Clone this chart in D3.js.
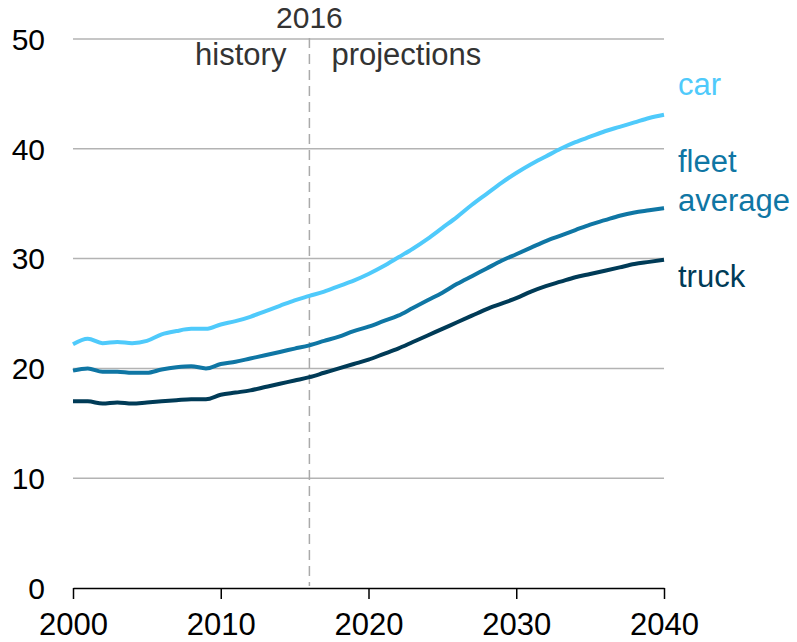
<!DOCTYPE html>
<html>
<head>
<meta charset="utf-8">
<script src="https://cdn.jsdelivr.net/npm/d3@7"></script>
<style>
  body { margin: 0; background: #fff; }
  text { font-family: "Liberation Sans", Arial, sans-serif; }
</style>
</head>
<body>
<div id="chart"></div>
<script>
// chart size
const width = 797
const height = 642

// data: miles per gallon by year
const years = d3.range(2000, 2041)
const car = [22.2, 22.7, 22.3, 22.4, 22.3, 22.5, 23.1, 23.4, 23.6, 23.6,
  24.0, 24.3, 24.7, 25.2, 25.7, 26.2, 26.6, 27.0, 27.5, 28.0,
  28.6, 29.3, 30.1, 30.9, 31.8, 32.8, 33.8, 34.9, 35.9, 36.9,
  37.8, 38.6, 39.3, 40.0, 40.6, 41.1, 41.6, 42.0, 42.4, 42.8, 43.1]
const fleet = [19.8, 20.0, 19.7, 19.7, 19.6, 19.6, 19.9, 20.1, 20.2, 20.0,
  20.4, 20.6, 20.9, 21.2, 21.5, 21.8, 22.1, 22.5, 22.9, 23.4,
  23.8, 24.3, 24.8, 25.5, 26.2, 26.9, 27.7, 28.4, 29.1, 29.8,
  30.4, 31.0, 31.6, 32.1, 32.6, 33.1, 33.5, 33.9, 34.2, 34.4, 34.6]
const truck = [17.0, 17.0, 16.8, 16.9, 16.8, 16.9, 17.0, 17.1, 17.2, 17.2,
  17.6, 17.8, 18.0, 18.3, 18.6, 18.9, 19.2, 19.6, 20.0, 20.4,
  20.8, 21.3, 21.8, 22.4, 23.0, 23.6, 24.2, 24.8, 25.4, 25.9,
  26.4, 27.0, 27.5, 27.9, 28.3, 28.6, 28.9, 29.2, 29.5, 29.7, 29.9]
const yTicks = [0, 10, 20, 30, 40, 50]
const xTicks = [2000, 2010, 2020, 2030, 2040]
const splitYear = 2016

const series = [
  { name: "car", values: car, color: "#4fcafb", label: ["car"] },
  { name: "fleet", values: fleet, color: "#0f76a4", label: ["fleet", "average"] },
  { name: "truck", values: truck, color: "#003b57", label: ["truck"] }
]

var svg = d3.select("#chart")
            .append("svg")
            .attr("width", width)
            .attr("height", height)

var x = d3.scaleLinear().domain([2000, 2040]).range([73, 664])
var y = d3.scaleLinear().domain([0, 50]).range([588, 39])

// gridlines
svg.append("g")
   .selectAll("line")
   .data(yTicks.filter(d => d > 0))
   .enter()
   .append("line")
   .attr("x1", x(2000))
   .attr("x2", x(2040))
   .attr("y1", d => y(d))
   .attr("y2", d => y(d))
   .attr("stroke", "#b3b3b3")
   .attr("stroke-width", 1.5)

// y tick labels
svg.append("g")
   .selectAll("text")
   .data(yTicks)
   .enter()
   .append("text")
   .attr("x", 45)
   .attr("y", d => y(d))
   .attr("dy", "0.36em")
   .attr("text-anchor", "end")
   .attr("font-size", "30px")
   .attr("fill", "#000")
   .text(d => d)

// x axis
var xAxis = d3.axisBottom(x)
              .tickValues(xTicks)
              .tickFormat(d3.format("d"))
              .tickSize(11)
              .tickSizeOuter(0)
              .tickPadding(14)

var gx = svg.append("g")
            .attr("transform", "translate(0," + y(0) + ")")
            .call(xAxis)
gx.select(".domain").attr("stroke", "#000").attr("stroke-width", 1.5)
gx.selectAll(".tick line").attr("stroke", "#000").attr("stroke-width", 1.5)
gx.selectAll(".tick text")
  .attr("font-size", "31px")
  .attr("font-family", "'Liberation Sans', Arial, sans-serif")
  .attr("fill", "#000")

// 2016 divider
svg.append("line")
   .attr("x1", x(splitYear))
   .attr("x2", x(splitYear))
   .attr("y1", 38)
   .attr("y2", y(0) - 2)
   .attr("stroke", "#aaaaaa")
   .attr("stroke-width", 1.5)
   .attr("stroke-dasharray", "10,6")

svg.append("text")
   .attr("x", x(splitYear))
   .attr("y", 28)
   .attr("text-anchor", "middle")
   .attr("font-size", "30px")
   .attr("fill", "#333")
   .text(splitYear)

svg.append("text")
   .attr("x", x(splitYear) - 23)
   .attr("y", 65)
   .attr("text-anchor", "end")
   .attr("font-size", "31px")
   .attr("fill", "#333")
   .text("history")

svg.append("text")
   .attr("x", x(splitYear) + 22)
   .attr("y", 65)
   .attr("text-anchor", "start")
   .attr("font-size", "31px")
   .attr("fill", "#333")
   .text("projections")

// lines
var line = d3.line()
             .x((d, i) => x(years[i]))
             .y(d => y(d))
             .curve(d3.curveMonotoneX)

svg.append("g")
   .selectAll("path")
   .data(series)
   .enter()
   .append("path")
   .attr("d", d => line(d.values))
   .attr("fill", "none")
   .attr("stroke", d => d.color)
   .attr("stroke-width", 4)
   .attr("stroke-linejoin", "round")

// series labels at right
var labelY = { car: 95, fleet: 172, truck: 287 }
series.forEach(function(s) {
  var t = svg.append("text")
             .attr("x", 678)
             .attr("y", labelY[s.name])
             .attr("font-size", "31px")
             .attr("fill", s.color)
  s.label.forEach(function(l, i) {
    t.append("tspan")
     .attr("x", 678)
     .attr("dy", i === 0 ? 0 : 39)
     .text(l)
  })
})
</script>
</body>
</html>
